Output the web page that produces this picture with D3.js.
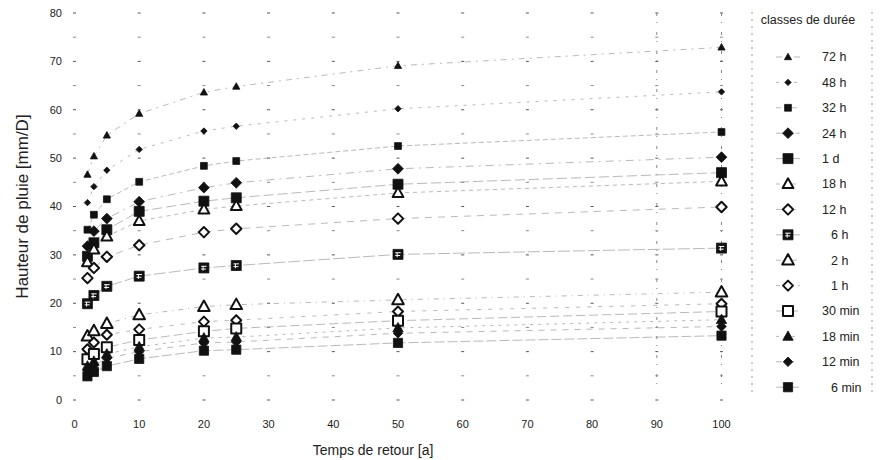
<!DOCTYPE html>
<html>
<head>
<meta charset="utf-8">
<script src="https://cdn.jsdelivr.net/npm/d3@7"></script>
<style>
  html, body { margin: 0; padding: 0; background: #fff; }
  svg { display: block; font-family: "Liberation Sans", Arial, sans-serif; }
</style>
</head>
<body>
<svg id="chart" width="880" height="460"></svg>
<script>
// Return periods (years)
const returnPeriods = [2, 3, 5, 10, 20, 25, 50, 100];

// Duration classes, top to bottom of the legend
const durations = ["72 h", "48 h", "32 h", "24 h", "1 d", "18 h", "12 h", "6 h",
                   "2 h", "1 h", "30 min", "18 min", "12 min", "6 min"];

// Rainfall depth [mm] per duration class, one value per return period
const h72  = [46.6, 50.4, 54.7, 59.2, 63.6, 64.8, 69.1, 72.9];
const h48  = [40.8, 44.1, 47.5, 51.8, 55.6, 56.6, 60.2, 63.7];
const h32  = [35.2, 38.3, 41.5, 45.1, 48.4, 49.4, 52.5, 55.4];
const h24  = [31.8, 34.9, 37.5, 41.0, 43.9, 44.9, 47.8, 50.2];
const d1   = [29.7, 32.5, 35.2, 39.0, 41.1, 41.8, 44.6, 47.0];
const h18  = [28.5, 31.1, 33.8, 37.0, 39.4, 40.1, 42.8, 45.2];
const h12  = [25.2, 27.3, 29.6, 32.0, 34.7, 35.4, 37.5, 39.9];
const h6   = [19.9, 21.6, 23.5, 25.6, 27.3, 27.8, 30.1, 31.4];
const h2   = [13.2, 14.3, 15.8, 17.6, 19.3, 19.7, 20.7, 22.3];
const h1   = [10.5, 11.9, 13.5, 14.6, 16.2, 16.5, 18.3, 19.9];
const m30  = [8.4, 9.5, 10.9, 12.4, 14.2, 14.8, 16.4, 18.3];
const m18  = [7.0, 8.0, 9.5, 11.0, 12.8, 13.0, 14.9, 16.6];
const m12  = [6.2, 7.2, 8.6, 10.0, 11.8, 12.0, 13.8, 15.2];
const m6   = [4.9, 5.8, 7.0, 8.5, 10.2, 10.4, 11.8, 13.3];

const seriesValues = [h72, h48, h32, h24, d1, h18, h12, h6, h2, h1, m30, m18, m12, m6];

// Axis ticks
const xTicks = [0, 10, 20, 30, 40, 50, 60, 70, 80, 90, 100];
const yTicks = [0, 10, 20, 30, 40, 50, 60, 70, 80];

// Marker style for each duration class
const markerStyles = [
  { shape: "tri", r: 3.6, fill: "#111" },
  { shape: "dia", r: 3.2, fill: "#111" },
  { shape: "sq",  r: 3.4, fill: "#111" },
  { shape: "dia", r: 5.4, fill: "#111" },
  { shape: "sq",  r: 5,   fill: "#111" },
  { shape: "tri", r: 5.4, fill: "#fff", stroke: "#111" },
  { shape: "dia", r: 5.2, fill: "#fff", stroke: "#111" },
  { shape: "sq",  r: 5,   fill: "#111", pattern: true },
  { shape: "tri", r: 5.8, fill: "#fff", stroke: "#111" },
  { shape: "dia", r: 5,   fill: "#fff", stroke: "#111" },
  { shape: "sq",  r: 5,   fill: "#fff", stroke: "#111" },
  { shape: "tri", r: 5.2, fill: "#111" },
  { shape: "dia", r: 4.8, fill: "#111" },
  { shape: "sq",  r: 4.6, fill: "#111" }
];
const lineDashes = ["6,5,2,5", "3,6", "5,3", "8,5,2,5", "10,4", "4,4", "7,6", "12,3",
                    "5,5,1,5", "4,7", "9,4", "3,5", "6,6", "10,3"];

const svg = d3.select("#chart");

const x = d3.scaleLinear().domain([0, 100]).range([74.5, 721.5]);
const y = d3.scaleLinear().domain([0, 80]).range([400, 13]);

function shapePath(shape, r) {
  if (shape === "tri") {
    return `M0,${-r * 1.05}L${r},${r * 0.75}L${-r},${r * 0.75}Z`;
  }
  if (shape === "dia") {
    return `M0,${-r}L${r},0L0,${r}L${-r},0Z`;
  }
  return `M${-r},${-r}H${r}V${r}H${-r}Z`;
}

function drawMarker(g, st) {
  g.append("path")
    .attr("d", shapePath(st.shape, st.r))
    .attr("fill", st.fill)
    .attr("stroke", st.stroke || st.fill)
    .attr("stroke-width", st.stroke ? 2 : 0.8)
    .attr("stroke-linejoin", "round");
  if (st.pattern) {
    const k = st.r * 0.55;
    g.append("path")
      .attr("d", `M${-k},${-k * 0.6}H${k}M${-k * 0.3},${-k * 0.6}V${k}M${-k},${k * 0.4}H${k * 0.8}`)
      .attr("stroke", "#fff").attr("stroke-width", 1).attr("fill", "none");
  }
}

// Dotted grid: short dashes at every 10 a / 5 mm
const gridG = svg.append("g");
const yGrid = d3.range(0, 81, 5);
xTicks.forEach(xv => {
  yGrid.forEach(yv => {
    gridG.append("line")
      .attr("x1", x(xv) - 1.5).attr("x2", x(xv) + 1.5)
      .attr("y1", y(yv)).attr("y2", y(yv))
      .attr("stroke", yv % 10 === 0 ? "#555" : "#888")
      .attr("stroke-width", 1);
  });
});
// Broken dashed verticals at 90 and 100
[90, 100].forEach(xv => {
  gridG.append("line")
    .attr("x1", x(xv)).attr("x2", x(xv))
    .attr("y1", y(80)).attr("y2", y(0) - 15)
    .attr("stroke", "#888").attr("stroke-width", 1)
    .attr("stroke-dasharray", "3,6,1,9");
});

// Connecting lines for each duration class
const line = d3.line().x((d, i) => x(returnPeriods[i])).y(d => y(d));
const linesG = svg.append("g");
seriesValues.forEach((vals, si) => {
  linesG.append("path")
    .attr("d", line(vals))
    .attr("fill", "none")
    .attr("stroke", "#8a8a8a")
    .attr("stroke-width", 1)
    .attr("stroke-dasharray", lineDashes[si])
    .attr("opacity", 0.6);
});

// Markers
const marksG = svg.append("g");
seriesValues.forEach((vals, si) => {
  vals.forEach((v, i) => {
    const g = marksG.append("g")
      .attr("transform", `translate(${x(returnPeriods[i])},${y(v)})`);
    drawMarker(g, markerStyles[si]);
  });
});

// Y axis labels
const axG = svg.append("g").attr("fill", "#222").attr("font-size", 11);
yTicks.forEach(t => {
  axG.append("text")
    .attr("x", 62).attr("y", y(t)).attr("dy", "0.35em")
    .attr("text-anchor", "end").text(t);
});
// X axis labels
xTicks.forEach(t => {
  axG.append("text")
    .attr("x", x(t)).attr("y", 424).attr("dy", "0.35em")
    .attr("text-anchor", "middle").text(t);
});

// Axis titles
svg.append("text")
  .attr("x", 373).attr("y", 450).attr("dy", "0.35em")
  .attr("text-anchor", "middle").attr("font-size", 14).attr("fill", "#222")
  .text("Temps de retour [a]");
svg.append("text")
  .attr("transform", `translate(22,${y(40)}) rotate(-90)`)
  .attr("dy", "0.35em")
  .attr("text-anchor", "middle").attr("font-size", 17).attr("fill", "#222")
  .text("Hauteur de pluie [mm/D]");

// Legend
const legG = svg.append("g");
legG.append("text")
  .attr("x", 808).attr("y", 20).attr("dy", "0.35em")
  .attr("text-anchor", "middle").attr("font-size", 12.5).attr("fill", "#222")
  .text("classes de durée");
durations.forEach((name, i) => {
  const ly = 57 + i * 25.4;
  legG.append("line")
    .attr("x1", 776).attr("x2", 800).attr("y1", ly).attr("y2", ly)
    .attr("stroke", "#8a8a8a").attr("stroke-width", 1)
    .attr("stroke-dasharray", lineDashes[i]).attr("opacity", 0.6);
  const g = legG.append("g").attr("transform", `translate(788,${ly})`);
  drawMarker(g, markerStyles[i]);
  const singleDigit = /^\d\s/.test(name) && name !== "1 d";
  legG.append("text")
    .attr("x", singleDigit ? 831 : 822).attr("y", ly).attr("dy", "0.35em")
    .attr("font-size", 12.5).attr("fill", "#222")
    .text(name);
});
// Dashed frame lines beside the legend
[752, 872].forEach(lx => {
  legG.append("line")
    .attr("x1", lx).attr("x2", lx).attr("y1", 12).attr("y2", 392)
    .attr("stroke", "#999").attr("stroke-width", 1).attr("stroke-dasharray", "2,5");
});
</script>
</body>
</html>
